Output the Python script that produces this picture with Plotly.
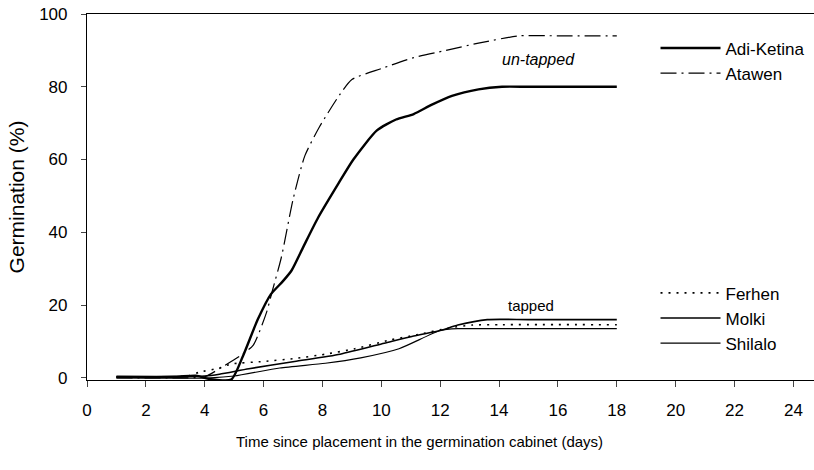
import plotly.graph_objects as go

# Germination curves (% germinated vs. days in the cabinet)
adi_days = [1, 3, 3.7, 4.2, 4.9, 5.3, 5.8, 6.25, 6.65, 6.95, 7.35, 7.85, 8.55, 9.05, 9.85, 10.5, 11.1, 11.7, 12.4, 13.3, 14.1, 15.0, 18.0]
adi_vals = [0.3, 0.3, 0.6, -0.4, -0.5, 6, 16, 23, 26.5, 29.5, 36, 44, 53.5, 60, 68, 71, 72.5, 75, 77.5, 79.3, 80, 80, 80]

ata_days = [1, 3, 4.0, 4.6, 5.2, 5.65, 6.1, 6.3, 6.6, 7.0, 7.4, 7.9, 8.6, 9.0, 10.0, 11.1, 12.2, 13.3, 14.7, 16.0, 18.0]
ata_vals = [0, 0, 0.3, 3, 6, 9, 18, 24, 33, 49, 61, 69, 78, 82, 85, 88, 90, 92, 94, 94, 94]

fer_days = [1, 3, 3.5, 3.8, 4.5, 4.9, 6.0, 7.05, 8.1, 9.1, 10.3, 11.2, 12.3, 13.1, 14.1, 18.0]
fer_vals = [0.3, 0.3, 0.6, 1.5, 2.7, 3.8, 4.5, 5.3, 6.5, 8, 10.4, 11.8, 13.7, 14.5, 14.6, 14.6]

mol_days = [1, 4, 4.5, 5.5, 7.05, 8.6, 10.1, 11.1, 12.0, 12.6, 13.6, 15.0, 18.0]
mol_vals = [0.3, 0.5, 1, 2.5, 4.5, 6.5, 9.5, 11.5, 13, 14.5, 16, 16, 16]

shi_days = [1, 4.2, 5.0, 6.55, 8.1, 9.3, 10.6, 12.0, 12.6, 14.6, 18.0]
shi_vals = [0, 0, 0.5, 2.7, 4, 5.5, 8, 13, 13.5, 13.5, 13.5]

x_ticks = list(range(0, 25, 2))
y_ticks = [0, 20, 40, 60, 80, 100]

FONT = "Liberation Sans, Arial, sans-serif"

fig = go.Figure()

def add(name, xs, ys, width, dash, legend):
    fig.add_trace(go.Scatter(
        x=xs, y=ys, name=name, mode="lines", legendgroup=name,
        line=dict(color="black", width=width, dash=dash, shape="spline", smoothing=0.6),
        legend=legend,
    ))

add("Adi-Ketina", adi_days, adi_vals, 2.4, "solid", "legend")
add("Atawen", ata_days, ata_vals, 1.2, "16px,5px,2px,5px", "legend")
add("Ferhen", fer_days, fer_vals, 1.6, "2px,6px", "legend2")
add("Molki", mol_days, mol_vals, 1.6, "solid", "legend2")
add("Shilalo", shi_days, shi_vals, 1.2, "solid", "legend2")

fig.add_annotation(x=15.35, y=87.4, text="<i>un-tapped</i>", showarrow=False,
                   font=dict(size=16, family=FONT, color="black"))
fig.add_annotation(x=15.07, y=20, text="tapped", showarrow=False,
                   font=dict(size=15, family=FONT, color="black"))
fig.add_annotation(x=0.457, y=-0.167, xref="paper", yref="paper", yanchor="middle",
                   text="Time since placement in the germination cabinet (days)",
                   showarrow=False, font=dict(size=15, family=FONT, color="black"))

legend_style = dict(
    bgcolor="rgba(0,0,0,0)", borderwidth=0, xanchor="left", yanchor="top",
    font=dict(size=17, family=FONT, color="black"), itemwidth=60,
    tracegroupgap=0,
)

fig.update_layout(
    width=814, height=470,
    margin=dict(l=87, r=0, t=14, b=90, autoexpand=False),
    plot_bgcolor="white", paper_bgcolor="white",
    font=dict(family=FONT, color="black", size=17),
    legend=dict(x=0.782, y=0.955, **legend_style),
    legend2=dict(x=0.782, y=0.286, **legend_style),
    xaxis=dict(
        range=[0, 24.7], tickvals=x_ticks, ticks="outside", ticklen=6, tickwidth=1,
        showline=True, linecolor="black", linewidth=1.2, mirror=True,
        showgrid=False, zeroline=False, ticklabelstandoff=8,
        tickfont=dict(size=17, family=FONT),
    ),
    yaxis=dict(
        range=[-0.6, 100], tickvals=y_ticks, ticks="outside", ticklen=5, tickwidth=1,
        showline=True, linecolor="black", linewidth=1.2,
        showgrid=False, zeroline=False, ticklabelstandoff=10,
        tickfont=dict(size=17, family=FONT),
        title=dict(text="Germination (%)", font=dict(size=21, family=FONT), standoff=8),
    ),
)

fig.write_html("out.html")
